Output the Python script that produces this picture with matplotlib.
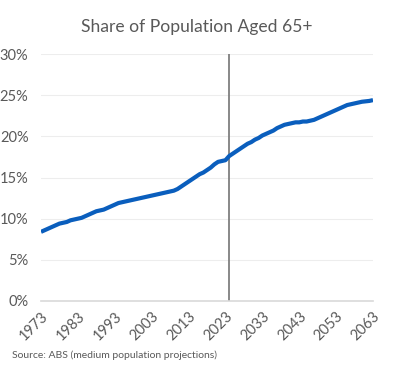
import numpy as np
import matplotlib.pyplot as plt
from matplotlib.ticker import FuncFormatter

# Datos (porcentaje de poblacion de 65+)
years = np.arange(1973, 2064)
share = [8.4, 8.6, 8.8, 9.0, 9.2, 9.4, 9.5, 9.6, 9.8, 9.9,
         10.0, 10.1, 10.3, 10.5, 10.7, 10.9, 11.0, 11.1, 11.3, 11.5,
         11.7, 11.9, 12.0, 12.1, 12.2, 12.3, 12.4, 12.5, 12.6, 12.7,
         12.8, 12.9, 13.0, 13.1, 13.2, 13.3, 13.4, 13.6, 13.9, 14.2,
         14.5, 14.8, 15.1, 15.4, 15.6, 15.9, 16.2, 16.6, 16.9, 17.0,
         17.1, 17.6, 17.9, 18.2, 18.5, 18.8, 19.1, 19.3, 19.6, 19.8,
         20.1, 20.3, 20.5, 20.7, 21.0, 21.2, 21.4, 21.5, 21.6, 21.7,
         21.7, 21.8, 21.8, 21.9, 22.0, 22.2, 22.4, 22.6, 22.8, 23.0,
         23.2, 23.4, 23.6, 23.8, 23.9, 24.0, 24.1, 24.2, 24.25, 24.3,
         24.4]
tick_years = list(range(1973, 2064, 10))
split_year = 2024

plt.rcParams['font.family'] = ['Lato', 'DejaVu Sans']
grey = '#595959'

fig = plt.figure(figsize=(3.94, 3.74), dpi=100)
ax = fig.add_axes([41 / 394, 73 / 374, 332 / 394, 247 / 374])

ax.plot(years, share, color='#0A5EBD', linewidth=3.0, solid_capstyle='butt', zorder=3)
ax.axvline(split_year, color='#7F7F7F', linewidth=1.3, zorder=2)

ax.set_xlim(1973, 2063)
ax.set_ylim(0, 30)
ax.set_yticks(range(0, 31, 5))
ax.yaxis.set_major_formatter(FuncFormatter(lambda v, p: f'{v:.0f}%'))
ax.set_xticks(tick_years)
ax.set_xticklabels([str(y) for y in tick_years], rotation=45, ha='right',
                   rotation_mode='anchor')

ax.grid(axis='y', color='#EDEDED', linewidth=0.8)
ax.set_axisbelow(True)
for s in ['top', 'right', 'left']:
    ax.spines[s].set_visible(False)
ax.spines['bottom'].set_color('#D9D9D9')
ax.spines['bottom'].set_linewidth(1.2)
ax.tick_params(axis='both', length=0, colors=grey, labelsize=10.5)
ax.tick_params(axis='y', pad=9)
ax.tick_params(axis='x', pad=6)

fig.text(197 / 394, 1 - 27 / 374, 'Share of Population Aged 65+', color=grey,
         fontsize=12.6, ha='center', va='center')
fig.text(12 / 394, 1 - 355 / 374, 'Source: ABS (medium population projections)',
         color=grey, fontsize=7.5, ha='left', va='center')

fig.savefig('out.png', dpi=100)
